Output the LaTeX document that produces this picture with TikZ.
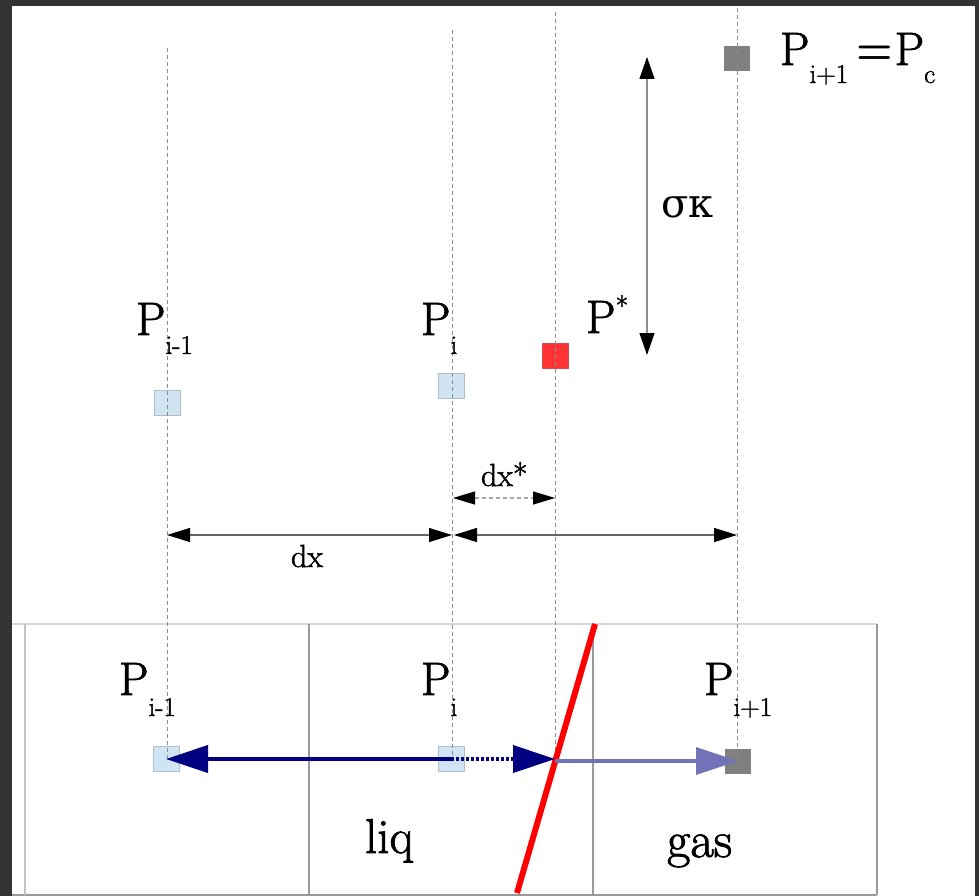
\documentclass[tikz,border=0pt]{standalone}
\usepackage{fontspec}
\setmainfont{Latin Modern Roman}[FakeBold=1.6]
\newfontfamily\demifont{Latin Modern Roman Demi}
\newfontfamily\grkfont{DejaVu Serif}
\usetikzlibrary{arrows.meta}
\definecolor{frameDark}{HTML}{333333}
\definecolor{liqBlue}{HTML}{CFE5F3}
\definecolor{liqEdge}{HTML}{B4BEC6}
\definecolor{gasGray}{HTML}{808080}
\definecolor{starRed}{HTML}{FF3333}
\definecolor{gridGray}{HTML}{999999}
\definecolor{gridLight}{HTML}{D8D8D8}
\definecolor{gridLeft}{HTML}{C4C4C4}
\definecolor{guideGray}{HTML}{8C8C8C}
\definecolor{navyArrow}{HTML}{000080}
\definecolor{lightNavy}{HTML}{7272B8}
\newcommand{\Pbig}{\fontsize{47}{50}\selectfont}
\newcommand{\Psmall}{\fontsize{27}{29}\selectfont}
\newcommand{\PSub}[2][20pt]{{\Pbig P}\raisebox{-#1}{\Psmall #2}}
\begin{document}
\begin{tikzpicture}[x=1pt,y=-1pt,
  lab/.style={anchor=base west,inner sep=0pt,outer sep=0pt},
  cellsq/.style={minimum width=26pt,minimum height=25pt,inner sep=0pt,outer sep=0pt},
  liqsq/.style={cellsq,fill=liqBlue,draw=liqEdge,line width=0.8pt},
  gassq/.style={cellsq,fill=gasGray},
  redsq/.style={cellsq,fill=starRed,draw=starRed!70!gray,line width=0.6pt},
  guide/.style={draw=guideGray,line width=0.8pt,dash pattern=on 4pt off 3pt},
  dimarrow/.style={draw=black!60,line width=1.1pt,{Triangle[length=23pt,width=14pt,color=black]}-{Triangle[length=23pt,width=14pt,color=black]}},
  bigtip/.style={-{Triangle[length=42pt,width=27pt]}},
]
\useasboundingbox (0,0) rectangle (979,896);
\fill[frameDark] (0,0) rectangle (979,896);
\fill[white] (12,6) rectangle (975,896);

% grid of cells
\draw[gridLight,line width=1.5pt] (12,624) -- (877,624);
\draw[gridGray,line width=1.2pt] (12,895) -- (877,895);
\draw[gridLeft,line width=2pt] (25,624) -- (25,895);
\draw[gridGray,line width=1.1pt] (309,624) -- (309,895);
\draw[gridGray,line width=1.1pt] (593,624) -- (593,895);
\draw[gridGray,line width=1.1pt] (877,624) -- (877,895);

% squares
\node[liqsq] (qa) at (167,403) {};
\node[liqsq] (qb) at (451,385.5) {};
\node[redsq] (qs) at (555,356) {};
\node[gassq] (qc) at (737,58.5) {};
\node[liqsq] (ba) at (166,759) {};
\node[liqsq] (bb) at (451,759) {};
\node[gassq] (bc) at (738,761) {};

% guide lines
\coordinate (ta) at (167,48);
\coordinate (tb) at (452,30);
\coordinate (ts) at (555,12);
\coordinate (tc) at (737,8);
\coordinate (ea) at (167,759);
\coordinate (eb) at (452,759);
\coordinate (es) at (555,759);
\coordinate (ec) at (737,761);
\draw[guide] (ta) -- (ea);
\draw[guide] (tb) -- (eb);
\draw[guide] (ts) -- (es);
\draw[guide] (tc) -- (ec);

% sigma kappa arrow
\coordinate (sk1) at (647,57);
\coordinate (sk2) at (647,355);
\draw[draw=black!45,line width=1.1pt,{Triangle[length=22pt,width=15pt,color=black]}-{Triangle[length=22pt,width=15pt,color=black]}] (sk1) -- (sk2);
\node[lab] (sk) at (661,218) {\fontsize{40}{44}\selectfont\grkfont σκ};

% dx arrows
\coordinate (d1) at (167,535);
\coordinate (d2) at (452,535);
\coordinate (d3) at (454,535);
\coordinate (d4) at (737,535);
\draw[dimarrow] (d1) -- (d2);
\draw[dimarrow] (d3) -- (d4);
\node[lab] (dx) at (291,567) {\fontsize{32}{34}\selectfont dx};
\coordinate (ds1) at (453,498);
\coordinate (ds2) at (555,498);
\draw[draw=black!35,line width=1.1pt,dash pattern=on 4pt off 3pt,{Triangle[length=22pt,width=13pt,color=black]}-{Triangle[length=22pt,width=13pt,color=black]}] (ds1) -- (ds2);
\node[lab] (dxs) at (481,486) {\fontsize{32}{34}\selectfont dx*};

% top labels
\node[lab] (lta) at (136,335) {\PSub[19pt]{i-1}};
\node[lab] (ltb) at (421,335) {\PSub[19pt]{i}};
\node[lab] (lts) at (586,333) {{\Pbig P}\raisebox{17pt}{\fontsize{28}{30}\selectfont *}};
\node[lab] (ltc) at (780,65) {\PSub[18pt]{i+1}\hspace{8pt}{\Pbig\demifont =}\hspace{2pt}\PSub[18pt]{c}};

% bottom labels
\node[lab] (lba) at (119,695) {\PSub[21pt]{i-1}};
\node[lab] (lbb) at (421,695) {\PSub[21pt]{i}};
\node[lab] (lbc) at (704,695) {\PSub[21pt]{i+1}};
\node[lab] (liq) at (365,853) {\fontsize{49}{51}\selectfont liq};
\node[lab] (gas) at (667,857) {\fontsize{51}{53}\selectfont gas};

% interface
\coordinate (r1) at (595,624);
\coordinate (r2) at (517,893);
\draw[red,line width=6pt] (r1) -- (r2);

% velocity arrows
\coordinate (ifc) at (555,759);
\coordinate (ifd) at (555,761);
\draw[navyArrow,line width=4pt,bigtip] (bb.center) -- (ba.center);
\draw[navyArrow,line width=4pt,dash pattern=on 3pt off 2pt,bigtip] (bb.center) -- (ifc);
\draw[lightNavy,line width=3.5pt,bigtip] (ifd) -- (bc.center);
\end{tikzpicture}
\end{document}
